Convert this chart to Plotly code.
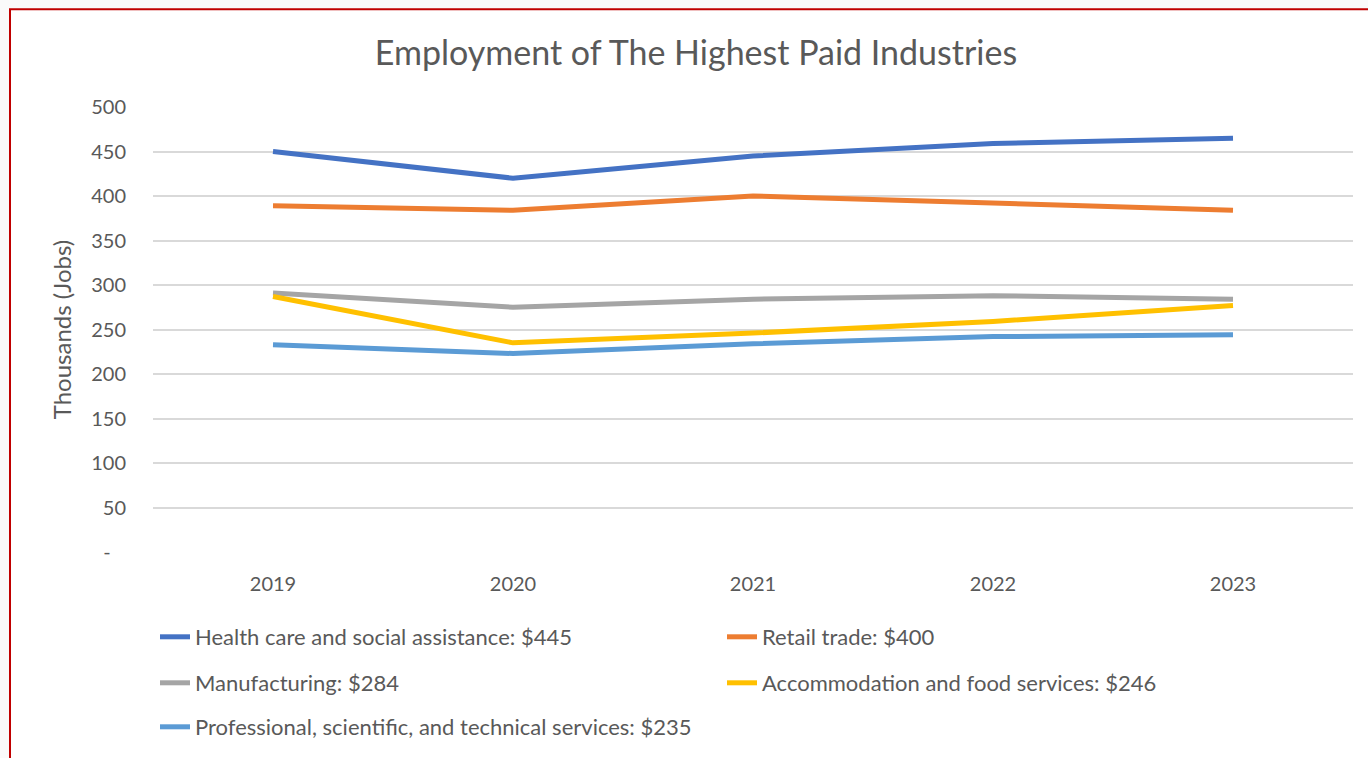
import plotly.graph_objects as go

# Years on the category axis
years = ["2019", "2020", "2021", "2022", "2023"]

# Employment, thousands of jobs
health_care = [450, 420, 445, 459, 465]
retail_trade = [389, 384, 400, 392, 384]
manufacturing = [291, 275, 284, 288, 284]
accommodation_food = [287, 235, 246, 259, 277]
professional_services = [233, 223, 234, 242, 244]

series_names = [
    "Health care and social assistance: $445",
    "Retail trade: $400",
    "Manufacturing: $284",
    "Accommodation and food services: $246",
    "Professional, scientific, and technical services: $235",
]
series_values = [health_care, retail_trade, manufacturing, accommodation_food, professional_services]
series_colors = ["#4472C4", "#ED7D31", "#A5A5A5", "#FFC000", "#5B9BD5"]
series_legend = ["legend", "legend", "legend2", "legend2", "legend3"]

y_tick_vals = [0, 50, 100, 150, 200, 250, 300, 350, 400, 450, 500]
y_tick_text = ["-\u00a0\u00a0\u00a0", "50", "100", "150", "200", "250", "300", "350", "400", "450", "500"]

FONT = "Lato"
TEXT = "#595959"

W, H = 1368, 758
L, R, T, B = 153, 15, 107, 205
pw, ph = W - L - R, H - T - B


def px_x(x):
    return (x - L) / pw


def px_y(y):
    return (H - B - y) / ph


fig = go.Figure()
for name, vals, col, lg in zip(series_names, series_values, series_colors, series_legend):
    fig.add_trace(go.Scatter(
        x=years, y=vals, name=name, mode="lines",
        line=dict(color=col, width=5), legend=lg,
    ))

legend_common = dict(
    orientation="h", xanchor="left", yanchor="middle",
    entrywidth=522, entrywidthmode="pixels",
    font=dict(family=FONT, size=22, color=TEXT),
    bgcolor="rgba(0,0,0,0)", tracegroupgap=0,
)

fig.update_layout(
    width=W, height=H,
    margin=dict(l=L, r=R, t=T, b=B, pad=0),
    paper_bgcolor="#fafafa",
    plot_bgcolor="rgba(0,0,0,0)",
    font=dict(family=FONT, color=TEXT),
    title=dict(
        text="Employment of The Highest Paid Industries",
        x=696 / W, xanchor="center", y=1 - 53 / H, yanchor="middle",
        font=dict(family=FONT, size=34, color=TEXT),
    ),
    xaxis=dict(
        range=[-0.5, 4.5], showgrid=False, zeroline=False, showline=False,
        tickfont=dict(family=FONT, size=20, color=TEXT), ticks="",
        ticklabelstandoff=18,
    ),
    yaxis=dict(
        range=[0, 500], tickvals=y_tick_vals, ticktext=y_tick_text,
        showgrid=True, gridcolor="#d9d9d9", gridwidth=1.5, zeroline=False, showline=False,
        tickfont=dict(family=FONT, size=20, color=TEXT), ticks="",
        ticklabelstandoff=26,
        title=dict(text="Thousands (Jobs)", font=dict(family=FONT, size=24, color=TEXT), standoff=12),
    ),
    legend=dict(x=px_x(155), y=px_y(637), **legend_common),
    legend2=dict(x=px_x(155), y=px_y(683), **legend_common),
    legend3=dict(x=px_x(155), y=px_y(727), **legend_common),
    shapes=[
        dict(type="rect", xref="paper", yref="paper", layer="below",
             x0=px_x(10), x1=px_x(W + 20), y0=px_y(H + 20), y1=px_y(9),
             fillcolor="white", line=dict(color="#C00000", width=2)),
    ],
)

fig.write_html("out.html")
